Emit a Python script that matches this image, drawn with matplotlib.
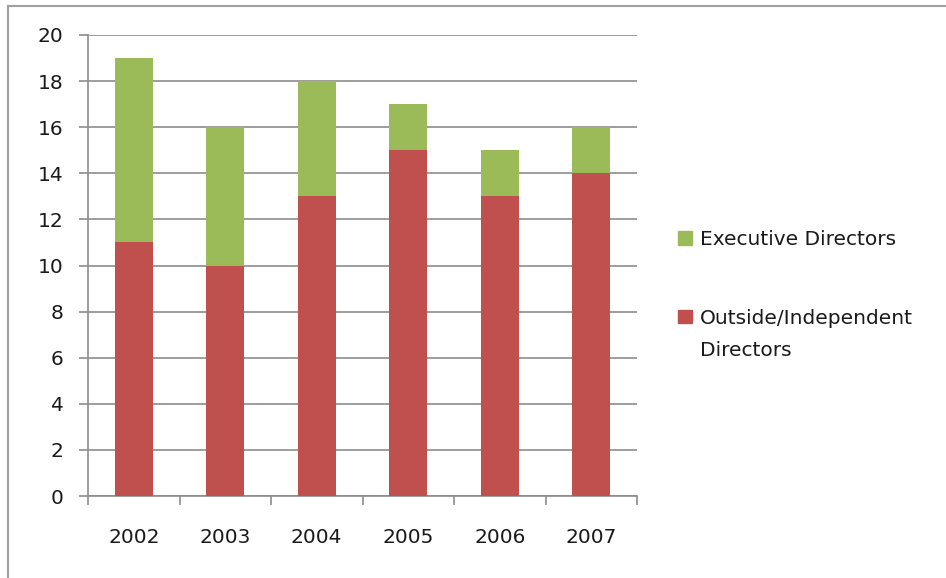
import matplotlib
matplotlib.use("Agg")
import matplotlib.pyplot as plt
from matplotlib.patches import Patch
from matplotlib.lines import Line2D

years = ["2002", "2003", "2004", "2005", "2006", "2007"]
outside = [11, 10, 13, 15, 13, 14]
executive = [8, 6, 5, 2, 2, 2]
labels = ["Executive Directors", "Outside/Independent"]
label_cont = "Directors"
colors = {"exec": "#9BBB59", "out": "#C0504D"}

plt.rcParams['font.family'] = ['DejaVu Sans']
FS = 14.5
TXT = "#1a1a1a"

fig = plt.figure(figsize=(9.46, 5.78), dpi=100)
ax = fig.add_axes([88/946, 1-496/578, (637-88)/946, (496-35)/578])

x = list(range(len(years)))
ax.bar(x, outside, width=0.41, color=colors["out"], zorder=3)
ax.bar(x, executive, bottom=outside, width=0.41, color=colors["exec"], zorder=3)

ax.set_xlim(-0.5, len(years) - 0.5)
ax.set_ylim(0, 20)
ax.set_yticks(range(0, 21, 2))
ax.yaxis.grid(True, color="#8c8c8c", linewidth=1.2, zorder=0)
ax.set_axisbelow(True)
ax.set_xticks(x)
ax.set_xticklabels(years)
ax.set_xticks([i - 0.5 for i in range(len(years) + 1)], minor=True)
ax.tick_params(axis="x", which="major", length=0, pad=23, labelsize=FS, colors=TXT)
ax.tick_params(axis="x", which="minor", length=6.5, width=1.2, color="#8c8c8c")
ax.tick_params(axis="y", length=6.5, width=1.2, color="#8c8c8c", labelsize=FS, pad=11, labelcolor=TXT)
for s in ["top", "right"]:
    ax.spines[s].set_visible(False)
for s in ["left", "bottom"]:
    ax.spines[s].set_color("#8c8c8c")
    ax.spines[s].set_linewidth(1.2)

handles = [Patch(color=colors["exec"]), Patch(color=colors["out"])]
leg = fig.legend(handles, labels, loc="upper left", bbox_to_anchor=(660/946, 1-212/578),
                 frameon=False, fontsize=FS, handlelength=0.68, handleheight=0.68,
                 handletextpad=0.4, labelspacing=2.95, labelcolor=TXT)

fig.canvas.draw()
bb = leg.get_texts()[1].get_window_extent()
fig.text(bb.x0 / fig.bbox.width, (bb.y0 - 32) / fig.bbox.height, label_cont,
         fontsize=FS, color=TXT, ha="left", va="bottom")

fig.add_artist(Line2D([8/946, 8/946], [0, 1-6/578], transform=fig.transFigure, color="#a0a0a0", lw=1.5))
fig.add_artist(Line2D([8/946, 1], [1-6/578, 1-6/578], transform=fig.transFigure, color="#a0a0a0", lw=1.5))

fig.savefig("out.png", dpi=100, facecolor="white")
